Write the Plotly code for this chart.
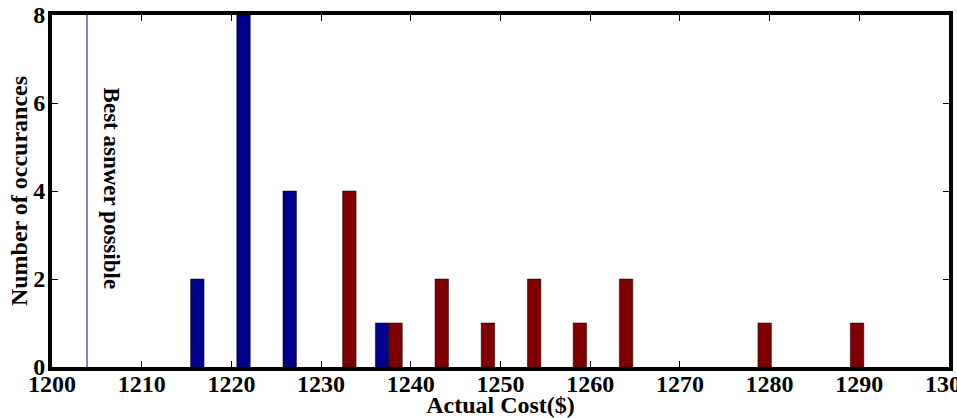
import plotly.graph_objects as go

# Histogram bin centres (Actual Cost $)
bin_centers = [1216.95, 1222.1, 1227.25, 1232.4, 1237.55, 1242.7, 1247.85,
               1253.0, 1258.1, 1263.25, 1268.4, 1273.55, 1278.7, 1283.85, 1289.0]
blue_counts = [2, 8, 4, None, 1, None, None, None, None, None, None, None, None, None, None]
red_counts = [None, None, None, 4, 1, 2, 1, 2, 1, 2, None, None, 1, None, 1]

best_answer = 1203.9
x_ticks = [1200, 1210, 1220, 1230, 1240, 1250, 1260, 1270, 1280, 1290, 1300]
y_ticks = [0, 2, 4, 6, 8]

FONT = "Liberation Serif, Times New Roman, serif"

fig = go.Figure()
fig.add_trace(go.Bar(x=bin_centers, y=blue_counts, width=1.5, offset=-1.5,
                     marker=dict(color="#00008f", line=dict(color="#000000", width=0.5)),
                     showlegend=False))
fig.add_trace(go.Bar(x=bin_centers, y=red_counts, width=1.5, offset=0,
                     marker=dict(color="#800000", line=dict(color="#000000", width=0.5)),
                     showlegend=False))

fig.add_shape(type="line", x0=best_answer, x1=best_answer, y0=0, y1=8,
              xref="x", yref="y", line=dict(color="#8080c8", width=2))
fig.add_annotation(x=best_answer + 2.7, y=4.05, text="<b>Best asnwer possible</b>",
                   textangle=90, showarrow=False,
                   font=dict(family=FONT, size=23, color="black"))

axis_common = dict(showline=True, linecolor="black", linewidth=4, mirror="ticks",
                   ticks="inside", ticklen=6, tickwidth=1, tickcolor="black",
                   showgrid=False, zeroline=False, automargin=False,
                   ticklabeloverflow="allow",
                   tickfont=dict(family=FONT, size=24, color="black"))

fig.update_xaxes(range=[1200, 1300], tickvals=x_ticks,
                 ticktext=[f"<b>{t}</b>" for t in x_ticks],
                 ticklabelstandoff=-8,
                 title=dict(text="<b>Actual Cost($)</b>", standoff=0,
                            font=dict(family=FONT, size=24, color="black")),
                 **axis_common)
fig.update_yaxes(range=[0, 8], tickvals=y_ticks,
                 ticktext=[f"<b>{t}</b>" for t in y_ticks],
                 ticklabelstandoff=-2,
                 title=dict(text="<b>Number of occurances</b>", standoff=0,
                            font=dict(family=FONT, size=24, color="black")),
                 **axis_common)

fig.update_layout(width=957, height=418, margin=dict(l=52, r=8, t=15, b=51),
                  plot_bgcolor="white", paper_bgcolor="white", barmode="overlay",
                  font=dict(family=FONT, color="black"))

fig.write_html("out.html", config={"displayModeBar": False},
               post_script="document.body.style.margin='0';document.body.style.overflow='hidden';")
